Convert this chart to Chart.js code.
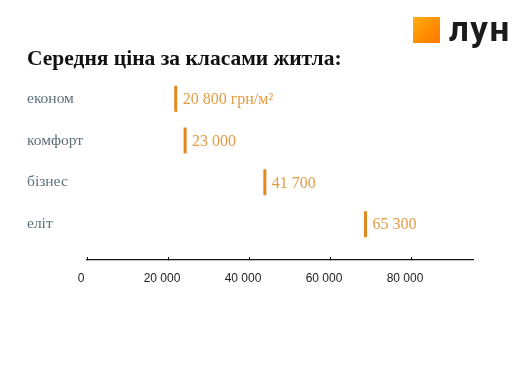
<!DOCTYPE html>
<html><head><meta charset="utf-8">
<script src="https://cdn.jsdelivr.net/npm/chart.js@4/dist/chart.umd.min.js"></script>
<style>
html,body{margin:0;padding:0;background:#fff;width:530px;height:370px;overflow:hidden}
#wrap{position:relative;width:530px;height:370px}
#logo-sq{position:absolute;left:413px;top:17px;width:27px;height:26px;background:linear-gradient(135deg,#ffb015 0%,#ff8a00 60%,#ff7a00 100%)}
#logo-tx{position:absolute;left:449px;top:10px;font-family:Roboto,"DejaVu Sans",sans-serif;font-weight:bold;font-size:35px;color:#1b1b1b;line-height:40px;letter-spacing:1.5px}
</style></head>
<body><div id="wrap"><canvas id="c" width="530" height="370"></canvas>
<div id="logo-sq"></div><div id="logo-tx">лун</div></div>
<script>
const categories = ['економ', 'комфорт', 'бізнес', 'еліт'];
const prices = [20800, 23000, 41700, 65300];
const units = [' грн/м²', '', '', ''];
const axisTicks = [0, 20000, 40000, 60000, 80000];
const titleText = 'Середня ціна за класами житла:';

function fmt(v){ return String(v).replace(/\B(?=(\d{3})+(?!\d))/g, ' '); }

const valueLabels = {
  id: 'valueLabels',
  afterDatasetsDraw(chart){
    const ctx = chart.ctx;
    const meta = chart.getDatasetMeta(0);
    ctx.save();
    ctx.font = '16px "Liberation Serif", serif';
    ctx.fillStyle = '#e39d45';
    ctx.textAlign = 'left';
    ctx.textBaseline = 'middle';
    meta.data.forEach((el, i) => {
      ctx.fillText(fmt(prices[i]) + units[i], el.x + 7, el.y + 1);
    });
    ctx.restore();
  }
};

new Chart(document.getElementById('c'), {
  type: 'scatter',
  data: {
    datasets: [{
      data: prices.map((v, i) => ({x: v, y: i})),
      xAxisID: 'x2',
      pointStyle: 'line',
      rotation: 90,
      radius: 13,
      hoverRadius: 13,
      borderWidth: 3,
      borderColor: '#e08a1e',
      backgroundColor: '#e08a1e'
    }]
  },
  options: {
    responsive: false,
    animation: false,
    events: [],
    layout: { padding: { left: 27, right: 57, top: 0, bottom: 80 } },
    plugins: {
      legend: { display: false },
      tooltip: { enabled: false },
      title: {
        display: true, text: titleText, align: 'start', color: '#111',
        font: { family: '"Liberation Serif", serif', size: 21.5, weight: 'bold', lineHeight: 1.2 },
        padding: { top: 47, bottom: 0 }
      }
    },
    scales: {
      x: {
        type: 'linear', position: 'bottom', min: 0, max: 95300,
        afterBuildTicks(s){ s.ticks = axisTicks.map(v => ({value: v})); },
        afterFit(s){ s.height = 30; },
        border: { display: true, color: '#111', width: 1.3 },
        grid: { display: true, drawOnChartArea: false, drawTicks: true, tickLength: -3, color: '#111', lineWidth: 1 },
        ticks: { color: '#222', font: { family: '"Liberation Sans", Arial, sans-serif', size: 12 }, padding: 14, labelOffset: -6, maxRotation: 0, callback: v => fmt(v) }
      },
      x2: {
        type: 'linear', position: 'bottom', min: 0, max: 90500, display: false
      },
      y: {
        type: 'linear', reverse: true, min: -0.62, max: 3.857,
        afterBuildTicks(s){ s.ticks = categories.map((c, i) => ({value: i})); },
        afterFit(s){ s.width = 60; },
        border: { display: false },
        grid: { display: false },
        ticks: { crossAlign: 'far', padding: 0, color: '#5c6f7b', font: { family: '"Liberation Serif", serif', size: 15.5 }, callback: v => categories[v] }
      }
    }
  },
  plugins: [valueLabels]
});
</script></body></html>
